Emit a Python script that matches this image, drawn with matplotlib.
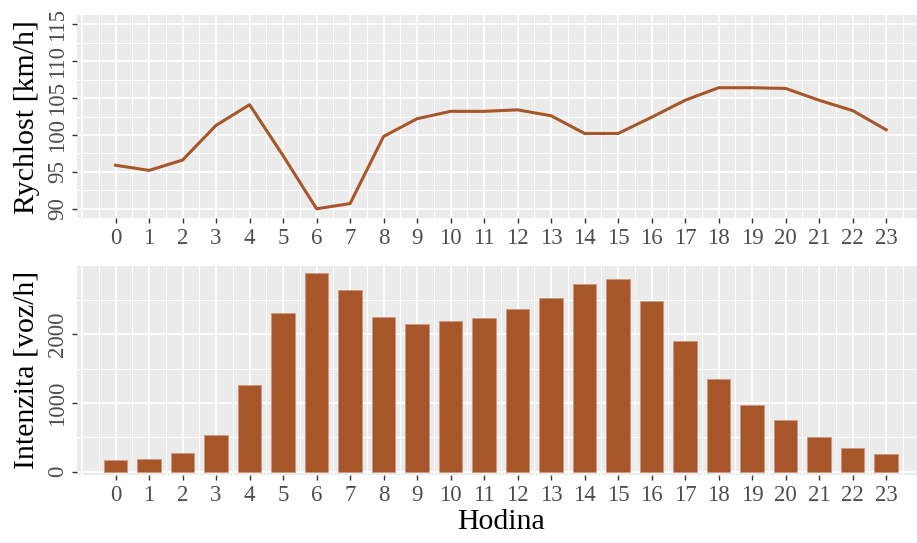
import matplotlib
matplotlib.use("Agg")
import matplotlib.pyplot as plt
import numpy as np
from matplotlib.ticker import MultipleLocator, FixedLocator

# Hourly data
hours = list(range(24))
speed_kmh = [95.9, 95.2, 96.6, 101.3, 104.1, 97.2, 90.0, 90.7, 99.8, 102.2,
             103.2, 103.2, 103.4, 102.6, 100.2, 100.2, 102.4, 104.7, 106.4,
             106.4, 106.3, 104.7, 103.3, 100.7]
intensity_vph = [170, 185, 272, 533, 1256, 2302, 2884, 2641, 2253, 2147,
                 2186, 2234, 2360, 2525, 2728, 2805, 2477, 1900, 1347, 969,
                 751, 509, 349, 257]

speed_ticks = [90, 95, 100, 105, 110, 115]
intensity_ticks = [0, 1000, 2000]

speed_label = "Rychlost [km/h]"
intensity_label = "Intenzita [voz/h]"
hour_label = "Hodina"

colour = "#A65628"
panel_bg = "#EBEBEB"
text_grey = "#4D4D4D"

plt.rcParams["font.family"] = ["Liberation Serif", "DejaVu Serif"]

W, H = 917, 543
fig = plt.figure(figsize=(W / 100, H / 100), dpi=100)


def px_axes(left, top, right, bottom):
    return fig.add_axes([left / W, 1 - bottom / H, (right - left) / W, (bottom - top) / H])


ax_top = px_axes(77, 15, 917, 218)
ax_bot = px_axes(77, 266, 917, 475)


def style(ax):
    ax.set_facecolor(panel_bg)
    for s in ax.spines.values():
        s.set_visible(False)
    ax.xaxis.set_major_locator(FixedLocator(np.arange(-1, 25)))
    ax.xaxis.set_minor_locator(FixedLocator(np.arange(-1.5, 25, 1.0)))
    ax.grid(True, which="major", color="white", linewidth=1.3)
    ax.grid(True, which="minor", color="white", linewidth=0.7)
    ax.set_axisbelow(True)
    ax.tick_params(which="minor", length=0)
    ax.tick_params(which="major", length=3.5, width=1.0, color="#333333",
                   labelsize=16.5, labelcolor=text_grey)
    ax.tick_params(axis="x", pad=4)
    ax.tick_params(axis="y", pad=3, labelrotation=90)
    for lab in ax.get_yticklabels():
        lab.set_va("center")
    ax.set_xlim(-1.15, 23.92)


# Speed panel
style(ax_top)
ax_top.plot(hours, speed_kmh, color=colour, linewidth=2.2, solid_joinstyle="round")
ax_top.set_ylim(88.75, 116.25)
ax_top.yaxis.set_major_locator(FixedLocator(speed_ticks))
ax_top.yaxis.set_minor_locator(MultipleLocator(2.5))
ax_top.set_xticks(hours)
ax_top.xaxis.set_minor_locator(FixedLocator(np.arange(-1.5, 25, 0.5)))
ax_top.set_xticklabels([str(h) for h in hours])

# Intensity panel
style(ax_bot)
ax_bot.bar(hours, intensity_vph, width=0.7, color=colour,
           edgecolor="#c99a84", linewidth=0.6, zorder=2)
ax_bot.set_ylim(-48, 2990)
ax_bot.yaxis.set_major_locator(FixedLocator(intensity_ticks))
ax_bot.yaxis.set_minor_locator(MultipleLocator(500))
ax_bot.set_xticks(hours)
ax_bot.xaxis.set_minor_locator(FixedLocator(np.arange(-1.5, 25, 0.5)))
ax_bot.set_xticklabels([str(h) for h in hours])

# Redraw the grid on integer and half-hour positions (ticks only at 0..23)
for ax in (ax_top, ax_bot):
    for x in (-1.0,):
        ax.axvline(x, color="white", linewidth=1.3, zorder=0.5)
    for lab in ax.get_yticklabels():
        lab.set_rotation(90)
        lab.set_va("center")

fig.text(27 / W, 1 - 117 / H, speed_label, rotation=90, ha="center", va="center",
         fontsize=21.5, color="black")
fig.text(27 / W, 1 - 370 / H, intensity_label, rotation=90, ha="center", va="center",
         fontsize=21.5, color="black")
fig.text(501 / W, 1 - 522 / H, hour_label, ha="center", va="center",
         fontsize=21.5, color="black")

fig.savefig("out.png", dpi=100, facecolor="white")
